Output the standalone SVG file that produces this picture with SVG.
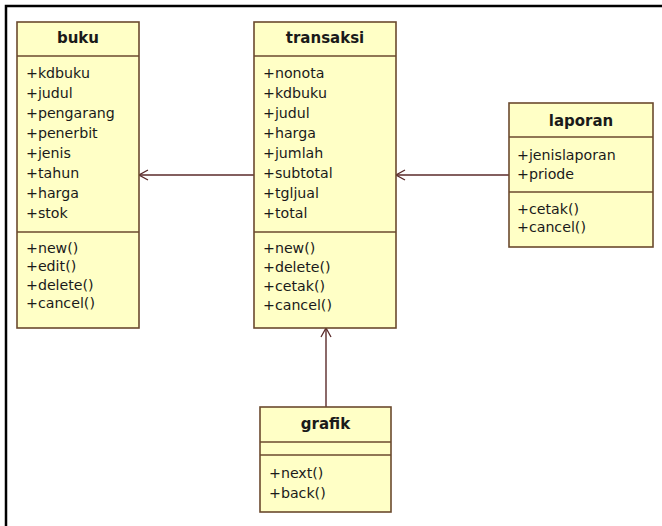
<svg xmlns="http://www.w3.org/2000/svg" width="662" height="526" viewBox="0 0 662 526">
<style>
.box{fill:#FFFFC6;stroke:#6B4A2E;stroke-width:1.6}
.sep{stroke:#6B4A2E;stroke-width:1.6}
.t{font-family:"DejaVu Sans",Verdana,sans-serif;font-size:14.2px;fill:#1a1a1a}
.h{font-family:"DejaVu Sans",Verdana,sans-serif;font-size:15px;font-weight:bold;fill:#1a1a1a;text-anchor:middle}
.c{stroke:#5A2A2A;stroke-width:1.4;fill:none}
</style>
<defs>
<marker id="open" viewBox="0 0 12 12" refX="1" refY="6" markerWidth="12" markerHeight="12" markerUnits="userSpaceOnUse" orient="auto">
<path d="M10,1 L1,6 L10,11" fill="none" stroke="#5A2A2A" stroke-width="1.3"/>
</marker>
</defs>
<rect width="662" height="526" fill="#fff"/>
<path d="M6,526 V6 H662" fill="none" stroke="#000" stroke-width="2.5"/>
<g id="connectors">
<line class="c" x1="139" y1="175" x2="254" y2="175" marker-start="url(#open)"/>
<line class="c" x1="396" y1="175" x2="509" y2="175" marker-start="url(#open)"/>
<line class="c" x1="326" y1="328" x2="326" y2="407" marker-start="url(#open)"/>
</g>
<g id="buku">
<rect class="box" x="17" y="22" width="122" height="306"/>
<line class="sep" x1="17" y1="56" x2="139" y2="56"/>
<line class="sep" x1="17" y1="232" x2="139" y2="232"/>
<text class="h" x="78" y="43">buku</text>
<text class="t" x="26" y="78">+kdbuku</text>
<text class="t" x="26" y="98">+judul</text>
<text class="t" x="26" y="118">+pengarang</text>
<text class="t" x="26" y="138">+penerbit</text>
<text class="t" x="26" y="158">+jenis</text>
<text class="t" x="26" y="178">+tahun</text>
<text class="t" x="26" y="198">+harga</text>
<text class="t" x="26" y="218">+stok</text>
<text class="t" x="26" y="253">+new()</text>
<text class="t" x="26" y="271">+edit()</text>
<text class="t" x="26" y="290">+delete()</text>
<text class="t" x="26" y="308">+cancel()</text>
</g>
<g id="transaksi">
<rect class="box" x="254" y="22" width="142" height="306"/>
<line class="sep" x1="254" y1="56" x2="396" y2="56"/>
<line class="sep" x1="254" y1="232" x2="396" y2="232"/>
<text class="h" x="325" y="43">transaksi</text>
<text class="t" x="263" y="78">+nonota</text>
<text class="t" x="263" y="98">+kdbuku</text>
<text class="t" x="263" y="118">+judul</text>
<text class="t" x="263" y="138">+harga</text>
<text class="t" x="263" y="158">+jumlah</text>
<text class="t" x="263" y="178">+subtotal</text>
<text class="t" x="263" y="198">+tgljual</text>
<text class="t" x="263" y="218">+total</text>
<text class="t" x="263" y="253">+new()</text>
<text class="t" x="263" y="272">+delete()</text>
<text class="t" x="263" y="291">+cetak()</text>
<text class="t" x="263" y="310">+cancel()</text>
</g>
<g id="laporan">
<rect class="box" x="509" y="103" width="144" height="144"/>
<line class="sep" x1="509" y1="137" x2="653" y2="137"/>
<line class="sep" x1="509" y1="192" x2="653" y2="192"/>
<text class="h" x="581" y="126">laporan</text>
<text class="t" x="517" y="160">+jenislaporan</text>
<text class="t" x="517" y="179">+priode</text>
<text class="t" x="517" y="214">+cetak()</text>
<text class="t" x="517" y="232">+cancel()</text>
</g>
<g id="grafik">
<rect class="box" x="260" y="407" width="131" height="105"/>
<line class="sep" x1="260" y1="442" x2="391" y2="442"/>
<line class="sep" x1="260" y1="455" x2="391" y2="455"/>
<text class="h" x="325.5" y="429">grafik</text>
<text class="t" x="269" y="478">+next()</text>
<text class="t" x="269" y="498">+back()</text>
</g>
</svg>
